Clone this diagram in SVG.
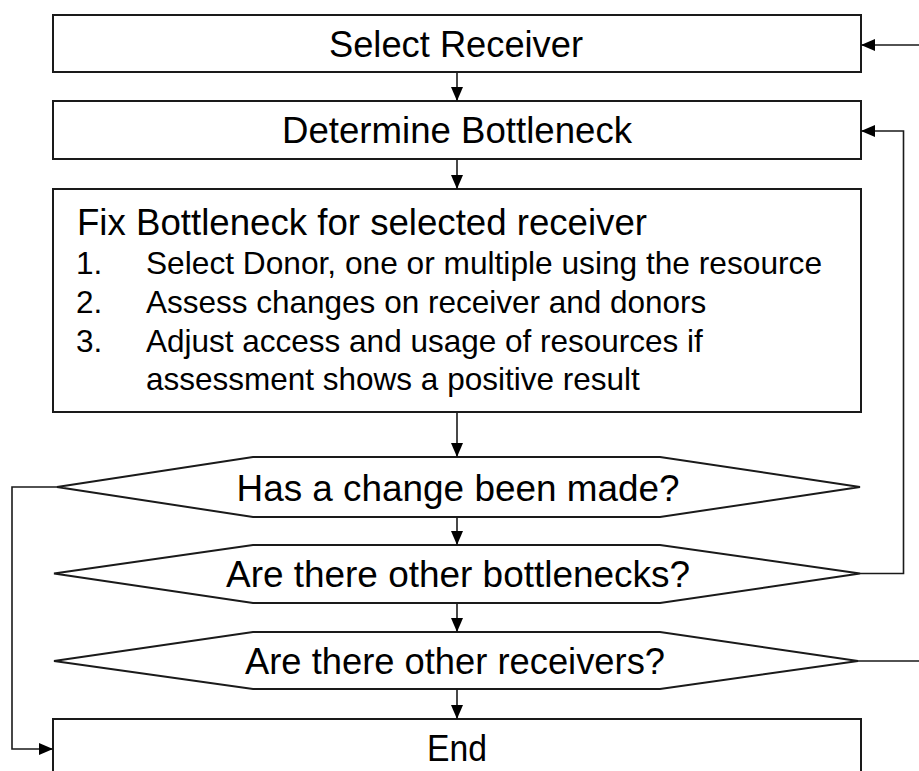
<svg xmlns="http://www.w3.org/2000/svg" width="919" height="771" viewBox="0 0 919 771">
  <defs>
    <style>
      .shape { fill: #ffffff; stroke: #1a1a1a; stroke-width: 2; }
      .conn { fill: none; stroke: #1a1a1a; stroke-width: 1.6; }
      .lbl { font-family: "Liberation Sans", Arial, sans-serif; font-size: 36px; fill: #000; text-anchor: middle; }
      .head { font-family: "Liberation Sans", Arial, sans-serif; font-size: 36px; fill: #000; }
      .item { font-family: "Liberation Sans", Arial, sans-serif; font-size: 31.5px; fill: #000; }
    </style>
    <marker id="arrow" viewBox="0 0 14 12" refX="14" refY="6" markerWidth="14" markerHeight="12" markerUnits="userSpaceOnUse" orient="auto">
      <path d="M0,0 L14,6 L0,12 Z" fill="#000"/>
    </marker>
  </defs>
  <rect width="919" height="771" fill="#ffffff"/>

  <g id="select-receiver">
    <rect class="shape" x="53" y="15" width="808" height="57"/>
    <text class="lbl" x="456" y="57" textLength="254" lengthAdjust="spacingAndGlyphs">Select Receiver</text>
  </g>

  <g id="determine-bottleneck">
    <rect class="shape" x="53" y="101" width="808" height="58"/>
    <text class="lbl" x="457" y="143" textLength="350" lengthAdjust="spacingAndGlyphs">Determine Bottleneck</text>
  </g>

  <g id="fix-bottleneck">
    <rect class="shape" x="53" y="189" width="808" height="223"/>
    <text class="head" x="77" y="234.5" textLength="570" lengthAdjust="spacingAndGlyphs">Fix Bottleneck for selected receiver</text>
    <text class="item" x="76" y="273.5">1.</text>
    <text class="item" x="146" y="273.5" textLength="676" lengthAdjust="spacingAndGlyphs">Select Donor, one or multiple using the resource</text>
    <text class="item" x="76" y="312.5">2.</text>
    <text class="item" x="146" y="312.5">Assess changes on receiver and donors</text>
    <text class="item" x="76" y="351.5">3.</text>
    <text class="item" x="146" y="351.5">Adjust access and usage of resources if</text>
    <text class="item" x="146" y="390">assessment shows a positive result</text>
  </g>

  <g id="change-made">
    <polygon class="shape" points="57,487 253,457 660,457 860,487 660,517 253,517"/>
    <text class="lbl" x="458" y="501" textLength="443" lengthAdjust="spacingAndGlyphs">Has a change been made?</text>
  </g>

  <g id="other-bottlenecks">
    <polygon class="shape" points="54,573.5 253,545 660,545 860,573.5 660,603 253,603"/>
    <text class="lbl" x="458" y="587" textLength="464" lengthAdjust="spacingAndGlyphs">Are there other bottlenecks?</text>
  </g>

  <g id="other-receivers">
    <polygon class="shape" points="54,661 253,632 660,632 858,661 660,689 253,689"/>
    <text class="lbl" x="455" y="674" textLength="420" lengthAdjust="spacingAndGlyphs">Are there other receivers?</text>
  </g>

  <g id="end">
    <rect class="shape" x="53" y="719" width="808" height="70"/>
    <text class="lbl" x="457" y="760.5" textLength="60" lengthAdjust="spacingAndGlyphs">End</text>
  </g>

  <g id="connectors">
    <line class="conn" x1="457" y1="72" x2="457" y2="101" marker-end="url(#arrow)"/>
    <line class="conn" x1="457" y1="159" x2="457" y2="189" marker-end="url(#arrow)"/>
    <line class="conn" x1="457" y1="412" x2="457" y2="457" marker-end="url(#arrow)"/>
    <line class="conn" x1="457" y1="517" x2="457" y2="545" marker-end="url(#arrow)"/>
    <line class="conn" x1="457" y1="603" x2="457" y2="632" marker-end="url(#arrow)"/>
    <line class="conn" x1="457" y1="689" x2="457" y2="719" marker-end="url(#arrow)"/>
    <path class="conn" d="M57,487 H12 V749 H53" marker-end="url(#arrow)"/>
    <path class="conn" d="M860,573.5 H903.5 V131 H861" marker-end="url(#arrow)"/>
    <path class="conn" d="M858,661 H935 V45 H861" marker-end="url(#arrow)"/>
  </g>
</svg>
